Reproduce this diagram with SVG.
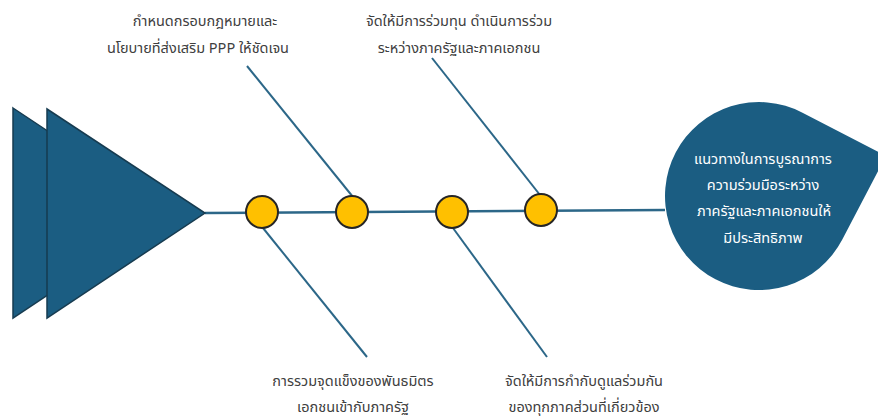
<svg xmlns="http://www.w3.org/2000/svg" width="878" height="416" viewBox="0 0 878 416">
<style>
.tri{fill:#1b5d82;stroke:#163b50;stroke-width:1.5;stroke-linejoin:miter}
.bone{stroke:#2c6788;stroke-width:2;fill:none}
.spine{stroke:#2c6788;stroke-width:2.5;fill:none}
.dot{fill:#ffc000;stroke:#262626;stroke-width:2}
.lbl{font-family:"Noto Sans","Noto Sans Thai","DejaVu Sans",sans-serif;font-size:14.5px;fill:#404040;text-anchor:middle;dominant-baseline:central}
.head{font-family:"Noto Sans","Noto Sans Thai","DejaVu Sans",sans-serif;font-size:14.5px;fill:#ffffff;text-anchor:middle;dominant-baseline:central}
</style>
<g id="connectors">
<path class="spine" d="M205 213 L665 210"/>
<line class="bone" x1="247" y1="66" x2="353" y2="197"/>
<line class="bone" x1="432" y1="58" x2="540" y2="195"/>
<line class="bone" x1="263" y1="228" x2="367" y2="357"/>
<line class="bone" x1="453" y1="228" x2="547" y2="357"/>
</g>
<g id="tail">
<polygon class="tri" points="13,108 171,213 13,318"/>
<polygon class="tri" points="47,109 205,213 47,318"/>
</g>
<g id="head">
<path d="M886 156 L842.3 239.6 A94 94 0 1 1 802.5 112.7 Z" fill="#1b5d82"/>
<text class="head" x="763" y="158">แนวทางในการบูรณาการ</text>
<text class="head" x="763" y="184">ความร่วมมือระหว่าง</text>
<text class="head" x="764" y="210">ภาครัฐและภาคเอกชนให้</text>
<text class="head" x="763" y="237">มีประสิทธิภาพ</text>
</g>
<g id="n1"><circle class="dot" cx="262" cy="212" r="16"/></g>
<g id="n2"><circle class="dot" cx="352" cy="212" r="16"/></g>
<g id="n3"><circle class="dot" cx="452" cy="212" r="16"/></g>
<g id="n4"><circle class="dot" cx="541" cy="210" r="16"/></g>
<g id="label1">
<text class="lbl" x="205" y="20">กำหนดกรอบกฎหมายและ</text>
<text class="lbl" x="198" y="47">นโยบายที่ส่งเสริม PPP ให้ชัดเจน</text>
</g>
<g id="label2">
<text class="lbl" x="459" y="20">จัดให้มีการร่วมทุน ดำเนินการร่วม</text>
<text class="lbl" x="459" y="47">ระหว่างภาครัฐและภาคเอกชน</text>
</g>
<g id="label3">
<text class="lbl" x="353" y="380">การรวมจุดแข็งของพันธมิตร</text>
<text class="lbl" x="353" y="406">เอกชนเข้ากับภาครัฐ</text>
</g>
<g id="label4">
<text class="lbl" x="584" y="380">จัดให้มีการกำกับดูแลร่วมกัน</text>
<text class="lbl" x="584" y="406">ของทุกภาคส่วนที่เกี่ยวข้อง</text>
</g>
</svg>
